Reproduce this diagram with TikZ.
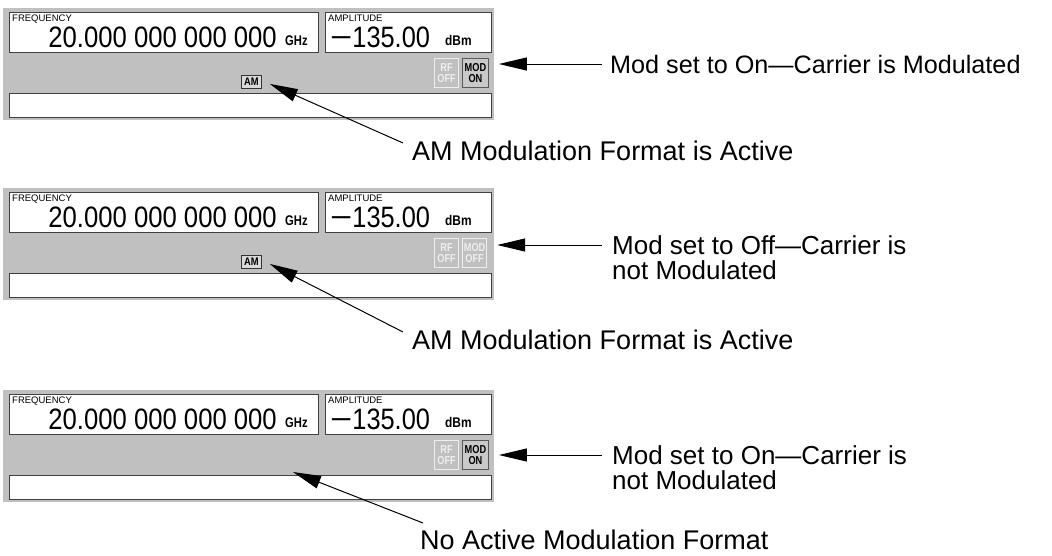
\documentclass[tikz,border=0pt]{standalone}
\usepackage{fontspec}
\setmainfont{Liberation Sans}
\usetikzlibrary{arrows.meta}
\definecolor{pgray}{HTML}{C0C0C0}
\definecolor{dgray}{HTML}{404040}
\definecolor{lgray}{HTML}{EEEEEE}
\tikzset{
  whitebox/.style={fill=white, draw=dgray, line width=0.8pt, inner sep=0pt, anchor=north west},
  btnoff/.style={fill=pgray, draw=lgray, line width=1.2pt, inner sep=0pt, anchor=north west,
     minimum width=24pt, minimum height=29pt, text=lgray, align=center,
     font=\fontsize{11.5}{11}\selectfont\bfseries},
  btnon/.style={btnoff, minimum width=26pt, fill=pgray!85!white, draw=black!65, line width=0.9pt, text=black},
  ambox/.style={fill=black!15, draw=black!80, line width=0.8pt, inner sep=0pt, anchor=north west,
     minimum width=20pt, minimum height=13pt, font=\fontsize{11}{11}\selectfont\bfseries},
  smalllab/.style={anchor=base west, inner sep=0pt, font=\fontsize{9.5}{10}\selectfont},
  bignum/.style={inner sep=0pt, font=\fontsize{29.5}{30}\selectfont},
  unitlab/.style={anchor=base west, inner sep=0pt, font=\fontsize{14}{14}\selectfont\bfseries},
  callout/.style={anchor=west, inner sep=0pt, align=left, font=\fontsize{26}{25}\selectfont},
  callbig/.style={callout, font=\fontsize{27}{27}\selectfont},
  arr/.style={line width=1pt, -{Triangle[length=28pt,width=13pt]}},
}
\newcommand\dispanel[4]{% #1 prefix, #2 y shift, #3 MOD style, #4 MOD state text
  \begin{scope}[shift={(0,#2)}]
    \fill[pgray] (3,8) rectangle (494,120);
    \node[whitebox, minimum width=309pt, minimum height=40pt] (#1f) at (9,12) {};
    \node[whitebox, minimum width=166pt, minimum height=40pt] (#1a) at (325,12) {};
    \node[whitebox, minimum width=482pt, minimum height=24pt] (#1s) at (9,93) {};
    \node[smalllab] (#1fl) at (12,21) {FREQUENCY};
    \node[smalllab] (#1al) at (328,21) {AMPLITUDE};
    \node[bignum, anchor=base east] (#1fv) at (277,47) {\scalebox{0.87}[1]{20.000 000 000 000}};
    \node[unitlab] (#1fu) at (285,45) {\scalebox{0.8}[1]{GHz}};
    \node[bignum, anchor=base west] (#1av) at (330,47) {\scalebox{0.86}[1]{\scalebox{1.5}[1]{−}135.00}};
    \node[unitlab] (#1au) at (445,45) {\scalebox{0.85}[1]{dBm}};
    \node[btnoff] (#1rf) at (434,58) {\scalebox{0.8}[1]{RF}\\\scalebox{0.8}[1]{OFF}};
    \node[#3] (#1mod) at (462,58) {\scalebox{0.8}[1]{MOD}\\\scalebox{0.8}[1]{#4}};
  \end{scope}}
\begin{document}
\begin{tikzpicture}[x=1pt,y=-1pt]
  \useasboundingbox[fill=white] (0,0) rectangle (1052,555);
  % panel 1
  \dispanel{p}{0}{btnon}{ON}
  \node[ambox] (pam) at (241,75) {\scalebox{0.85}[1]{AM}};
  \node[callout, font=\fontsize{25.2}{25}\selectfont] (pml) at (610,64) {Mod set to On—Carrier is Modulated};
  \node[callbig] (pal) at (412,151) {AM Modulation Format is Active};
  \draw[arr] ([xshift=-8pt]pml.west) -- ([xshift=10pt]pmod.east |- pml.west);
  \draw[arr] ([xshift=-9pt,yshift=8pt]pal.west) -- ([xshift=8pt,yshift=-2pt]pam.east);
  % panel 2
  \dispanel{q}{180}{btnoff}{OFF}
  \node[ambox] (qam) at (241,255) {\scalebox{0.85}[1]{AM}};
  \node[callout] (qml) at (612,257.5) {Mod set to Off—Carrier is\\not Modulated};
  \node[callbig] (qal) at (412,340) {AM Modulation Format is Active};
  \draw[arr] ([xshift=-10pt,yshift=12.5pt]qml.west) -- ([xshift=10pt,yshift=12.5pt]qmod.east |- qml.west);
  \draw[arr] ([xshift=-9pt,yshift=8pt]qal.west) -- ([xshift=8pt,yshift=-2pt]qam.east);
  % panel 3
  \dispanel{r}{382}{btnon}{ON}
  \coordinate (rtip) at (293,472);
  \node[callout] (rml) at (612,467.5) {Mod set to On—Carrier is\\not Modulated};
  \node[callbig] (ral) at (420,540) {No Active Modulation Format};
  \draw[arr] ([xshift=-10pt,yshift=12.5pt]rml.west) -- ([xshift=10pt,yshift=12.5pt]rmod.east |- rml.west);
  \draw[arr] ([xshift=3pt,yshift=17pt]ral.west) -- (rtip);
\end{tikzpicture}
\end{document}
